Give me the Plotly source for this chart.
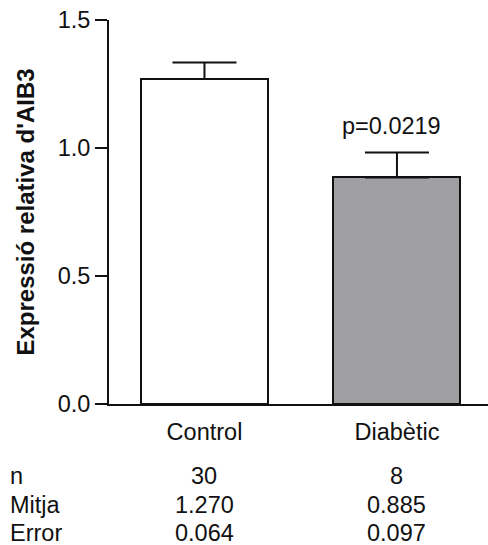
import plotly.graph_objects as go

# Group data
categories = ["Control", "Diabètic"]
means = [1.270, 0.885]
errors = [0.064, 0.097]
counts = [30, 8]
p_value = "p=0.0219"
bar_colors = ["#ffffff", "#a09fa4"]
y_ticks = [0.0, 0.5, 1.0, 1.5]
row_labels = ["n", "Mitja", "Error"]

FONT = "Liberation Sans, Arial, sans-serif"
INK = "#111111"
TXT = 23.5

# plot-area geometry in pixels
W, H = 488, 545
LEFT, TOP, BOTTOM = 109, 20, 404

fig = go.Figure()
fig.add_trace(go.Bar(
    x=[0, 1],
    y=means,
    width=0.66,
    marker=dict(color=bar_colors, line=dict(color=INK, width=2)),
    error_y=dict(type="data", array=errors, arrayminus=[0, 0], symmetric=False,
                 color=INK, thickness=2, width=32),
    showlegend=False,
))

# significance label above the Diabètic error bar
fig.add_annotation(x=1, y=means[1] + errors[1], xref="x", yref="y",
                   text=p_value, showarrow=False, yanchor="bottom", xshift=-5, yshift=12,
                   font=dict(family=FONT, size=TXT, color=INK))

# summary table beneath the axis
table_rows = [
    [str(c) for c in counts],
    [f"{m:.3f}" for m in means],
    [f"{e:.3f}" for e in errors],
]
row_y = [476, 505, 533]
for label, values, py in zip(row_labels, table_rows, row_y):
    ypaper = (BOTTOM - py) / (BOTTOM - TOP)
    fig.add_annotation(x=(8 - LEFT) / (W - LEFT), xref="paper", y=ypaper, yref="paper",
                       text=label, showarrow=False, xanchor="left", yanchor="middle",
                       font=dict(family=FONT, size=TXT, color=INK))
    for i, v in enumerate(values):
        fig.add_annotation(x=i, xref="x", y=ypaper, yref="paper", text=v,
                           showarrow=False, xanchor="center", yanchor="middle",
                           font=dict(family=FONT, size=TXT, color=INK))

fig.update_layout(
    width=W, height=H,
    margin=dict(l=LEFT, r=0, t=TOP, b=H - BOTTOM),
    paper_bgcolor="white", plot_bgcolor="white",
    font=dict(family=FONT, size=TXT, color=INK),
    bargap=0,
    xaxis=dict(
        range=[-0.496, 1.473],
        tickvals=[0, 1], ticktext=categories,
        showline=True, linecolor=INK, linewidth=2,
        ticks="", showgrid=False, zeroline=False,
        ticklabelstandoff=6,
        tickfont=dict(family=FONT, size=TXT, color=INK),
    ),
    yaxis=dict(
        range=[0, 1.5],
        tickvals=y_ticks, tickformat=".1f",
        showline=True, linecolor=INK, linewidth=2,
        ticks="outside", ticklen=12, tickwidth=2, tickcolor=INK,
        showgrid=False, zeroline=False,
        tickfont=dict(family=FONT, size=TXT, color=INK),
        title=dict(text="<b>Expressió relativa d'AIB3</b>",
                   font=dict(family=FONT, size=24, color=INK), standoff=16),
    ),
)

fig.write_html("out.html")
